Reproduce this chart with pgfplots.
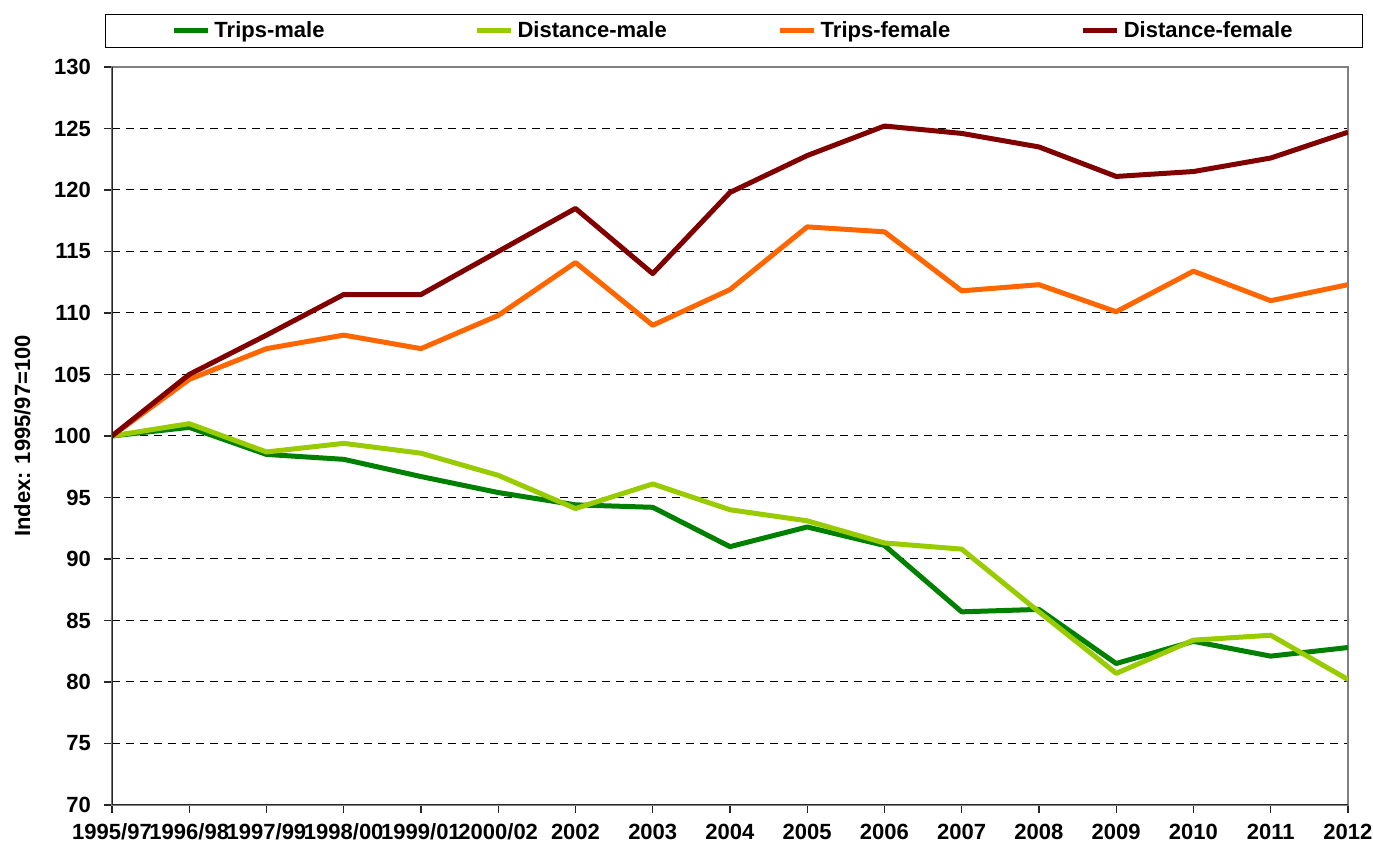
\documentclass[border=0pt]{standalone}
\usepackage{pgfplots}
\pgfplotsset{compat=1.18}
\usepackage{fontspec}
\setmainfont{Liberation Sans}

\definecolor{tripsM}{HTML}{008000}
\definecolor{distM}{HTML}{99CC00}
\definecolor{tripsF}{HTML}{FF6600}
\definecolor{distF}{HTML}{800000}

\begin{document}
\begin{tikzpicture}[font=\fontsize{11}{13}\selectfont\bfseries]
\begin{axis}[
  scale only axis,width=618pt,height=369pt,
  xmin=0,xmax=16,ymin=70,ymax=130,
  /pgf/number format/assume math mode=true,
  xtick={0,...,16},
  xticklabels={1995/97,1996/98,1997/99,1998/00,1999/01,2000/02,2002,2003,2004,2005,2006,2007,2008,2009,2010,2011,2012},
  ytick={70,75,...,130},
  tick pos=left,tick align=outside,major tick length=4pt,
  tick style={black!85,line width=0.6pt},
  axis line style={draw=gray,line width=0.8pt},
  ymajorgrids,
  major grid style={black,dash pattern=on 4pt off 3pt,line width=0.5pt},
  xticklabel style={yshift=-2pt,inner xsep=0.3pt},
  yticklabel style={xshift=-3pt},
  ylabel={Index: 1995/97=100},
  ylabel shift=5pt,
  every axis plot/.append style={line width=2.5pt,line join=round},
  legend columns=4,
  legend style={at={(0.5,1)},anchor=south,yshift=9.5pt,xshift=2pt,
    draw=black,line width=0.6pt,inner xsep=33pt,inner ysep=1.5pt,
    /tikz/every even column/.append style={column sep=0pt}},
  legend cell align=left,
]
\addplot[tripsM] coordinates {
  (0,100) (1,100.7) (2,98.5) (3,98.1) (4,96.7) (5,95.4) (6,94.4) (7,94.2)
  (8,91.0) (9,92.6) (10,91.1) (11,85.7) (12,85.9) (13,81.5) (14,83.3)
  (15,82.1) (16,82.8)
};
\addlegendentry{\makebox[128pt][l]{Trips-male}}
\addplot[distM] coordinates {
  (0,100) (1,101.0) (2,98.7) (3,99.4) (4,98.6) (5,96.8) (6,94.1) (7,96.1)
  (8,94.0) (9,93.1) (10,91.3) (11,90.8) (12,85.7) (13,80.7) (14,83.4)
  (15,83.8) (16,80.2)
};
\addlegendentry{\makebox[128pt][l]{Distance-male}}
\addplot[tripsF] coordinates {
  (0,100) (1,104.6) (2,107.1) (3,108.2) (4,107.1) (5,109.8) (6,114.1) (7,109.0)
  (8,111.9) (9,117.0) (10,116.6) (11,111.8) (12,112.3) (13,110.1) (14,113.4)
  (15,111.0) (16,112.3)
};
\addlegendentry{\makebox[128pt][l]{Trips-female}}
\addplot[distF] coordinates {
  (0,100) (1,105.0) (2,108.2) (3,111.5) (4,111.5) (5,115.0) (6,118.5) (7,113.2)
  (8,119.8) (9,122.8) (10,125.2) (11,124.6) (12,123.5) (13,121.1) (14,121.5)
  (15,122.6) (16,124.7)
};
\addlegendentry{Distance-female}
\draw[black!85,line width=0.8pt] (rel axis cs:0,1) -- (rel axis cs:0,0) -- (rel axis cs:1,0);
\end{axis}
\path (current axis.north west) ++(-56pt,33.5pt);
\path (current axis.south west) ++(0,-20pt);
\end{tikzpicture}
\end{document}
